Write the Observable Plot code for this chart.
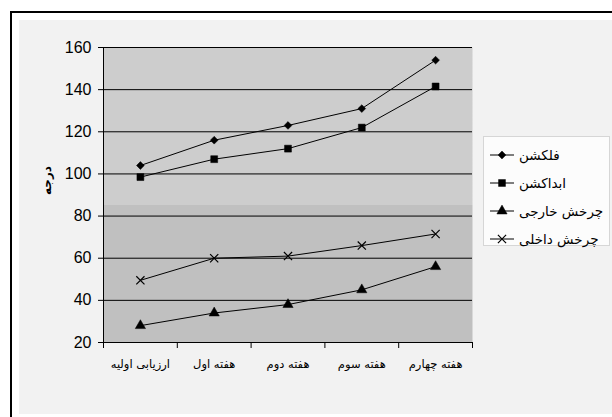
<!DOCTYPE html>
<html>
<head>
<meta charset="utf-8">
<script src="https://cdn.jsdelivr.net/npm/d3@7"></script>
<script src="https://cdn.jsdelivr.net/npm/@observablehq/plot@0.6"></script>
<style>
  html, body { margin: 0; padding: 0; width: 612px; height: 417px; overflow: hidden; background: #fff; }
  #frameBorder { position: absolute; left: 10px; top: 11px; width: 700px; height: 500px; border-top: 2px solid #000; border-left: 2px solid #000; }
  #inner { position: absolute; left: 19px; top: 20px; width: 600px; height: 394px; background: #f2f2f2; }
  #chart { position: absolute; left: 0; top: 0; }
  #legend { position: absolute; left: 483px; top: 136px; width: 127px; height: 110px; background: #fcfcfc; border: 1px solid #d6d6d6; box-sizing: border-box; }
  .row { position: absolute; left: 6px; height: 20px; display: flex; align-items: center; white-space: nowrap; }
  .row span { font-family: "DejaVu Sans", sans-serif; font-size: 13.5px; margin-left: 5px; color: #000; }
</style>
</head>
<body>
<div id="frameBorder"></div>
<div id="inner"></div>
<div id="chart"></div>
<div id="legend"></div>
<script>
const categories = ["ارزیابی اولیه", "هفته اول", "هفته دوم", "هفته سوم", "هفته چهارم"];
const seriesNames = ["فلکشن", "ابداکشن", "چرخش خارجی", "چرخش داخلی"];
const flexion = [104, 116, 123, 131, 154];
const abduction = [98.5, 107, 112, 122, 141.5];
const externalRotation = [28, 34, 38, 45, 56];
const internalRotation = [49.5, 60, 61, 66, 71.5];
const yTicks = [20, 40, 60, 80, 100, 120, 140, 160];
const yLabel = "درجه";

const seriesValues = [flexion, abduction, externalRotation, internalRotation];
const symbols = ["diamond2", "square", "triangle", "times"];
const radii = [3.5, 3.9, 3.8, 3.8];

const rows = [];
seriesNames.forEach((s, k) => seriesValues[k].forEach((v, i) => rows.push({series: s, k, i, cat: categories[i], value: v})));

const dotMarks = seriesNames.map((s, k) => Plot.dot(rows.filter(d => d.k === k), {
  x: d => d.i + 0.5, y: "value", symbol: () => symbols[k], r: radii[k],
  fill: k === 3 ? "none" : "black", stroke: "black", strokeWidth: k === 3 ? 1.2 : 0.5
}));

const chart = Plot.plot({
  width: 612, height: 417,
  marginLeft: 103, marginRight: 140, marginTop: 47, marginBottom: 75,
  x: {domain: [0, categories.length], axis: null},
  y: {domain: [20, 160], axis: null},
  symbol: {type: "identity"},
  style: {background: "transparent", overflow: "visible", color: "black"},
  marks: [
    Plot.frame({fill: "url(#plotBg)", stroke: null}),
    Plot.gridY(yTicks.slice(1), {stroke: "black", strokeOpacity: 1, strokeWidth: 1}),
    Plot.axisY({ticks: yTicks, tickSize: 5, tickPadding: 7, fontSize: 16, fontFamily: "Liberation Sans, Arial, sans-serif", label: null, stroke: "black"}),
    Plot.axisX({ticks: d3.range(categories.length + 1), tickSize: 6, tickFormat: () => "", label: null, stroke: "black"}),
    Plot.axisX({ticks: categories.map((c, i) => i + 0.5), tickSize: 0, tickPadding: 17, tickFormat: t => categories[Math.floor(t)], fontSize: 11.5, fontFamily: "DejaVu Sans, sans-serif", label: null}),
    Plot.ruleX([0], {stroke: "black"}),
    Plot.ruleY([20], {stroke: "black"}),
    Plot.line(rows, {x: d => d.i + 0.5, y: "value", z: "series", stroke: "black", strokeWidth: 1}),
    ...dotMarks,
    Plot.text([yLabel], {frameAnchor: "left", dx: -56, rotate: -90, fontWeight: "bold", fontSize: 12, fontFamily: "DejaVu Sans, sans-serif", fill: "black"})
  ]
});

const svg = d3.select(chart);
const grad = svg.insert("defs", ":first-child").append("linearGradient")
  .attr("id", "plotBg").attr("x1", 0).attr("y1", 0).attr("x2", 0).attr("y2", 1);
[[0, "#cdcdcd"], [0.534, "#cdcdcd"], [0.534, "#c0c0c0"], [1, "#c0c0c0"]].forEach(([o, c]) =>
  grad.append("stop").attr("offset", o).attr("stop-color", c));
document.getElementById("chart").appendChild(chart);

// legend
const legend = d3.select("#legend");
const d3sym = {diamond2: d3.symbolDiamond2, square: d3.symbolSquare, triangle: d3.symbolTriangle, times: d3.symbolTimes};
seriesNames.forEach((s, k) => {
  const row = legend.append("div").attr("class", "row").style("top", (8 + k * 28) + "px");
  const sv = row.append("svg").attr("width", 24).attr("height", 20);
  sv.append("line").attr("x1", 0).attr("x2", 24).attr("y1", 10).attr("y2", 10).attr("stroke", "black");
  sv.append("path").attr("transform", "translate(12,10)")
    .attr("d", d3.symbol(d3sym[symbols[k]], Math.PI * radii[k] * radii[k])())
    .attr("fill", k === 3 ? "none" : "black").attr("stroke", "black").attr("stroke-width", k === 3 ? 1.2 : 0.5);
  row.append("span").attr("dir", "rtl").text(s);
});
</script>
</body>
</html>
